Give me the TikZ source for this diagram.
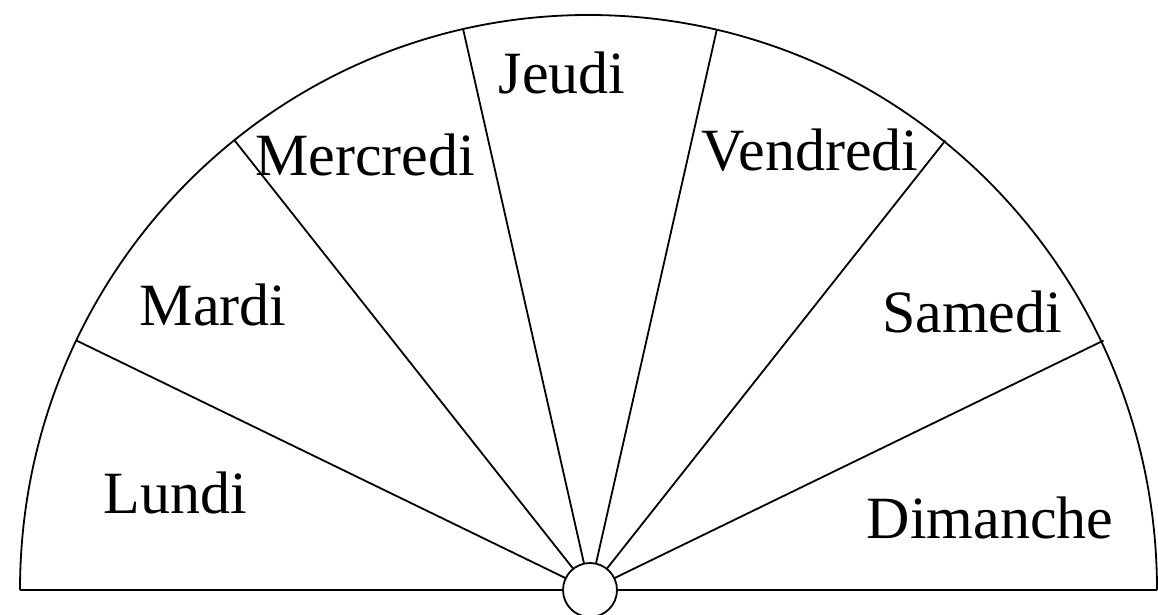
\documentclass[tikz,border=0pt]{standalone}
\usepackage{fontspec}
\setmainfont{Liberation Serif}
\usetikzlibrary{calc}
\begin{document}
\begin{tikzpicture}[x=1pt,y=1pt,
  edge/.style={line width=1.8pt,black},
  day/.style={font=\fontsize{60}{60}\selectfont,inner sep=0pt}]
\useasboundingbox (0,0) rectangle (1158,615);
\coordinate (O) at (590,25);
\foreach \k in {1,...,6}{
  \coordinate (p\k) at ($(O)+({570*cos(\k*180/7)},{575*sin(\k*180/7)})$);
}
\coordinate (L) at (20,25);
\coordinate (R) at (1157,25);
% outline
\draw[edge] (L) arc[start angle=180,end angle=0,x radius=568.5,y radius=575];
\draw[edge] (L) -- (R);
\foreach \k in {1,...,6}{\draw[edge] (O) -- (p\k);}
\node[circle,draw,line width=1.8pt,fill=white,minimum size=54pt,inner sep=0pt] (hub) at (O) {};
\node[day] (lundi) at (175,122) {Lundi};
\node[day] (mardi) at (213,310) {Mardi};
\node[day] (mercredi) at (365,460) {Mercredi};
\node[day] (jeudi) at (562,542) {Jeudi};
\node[day] (vendredi) at (810,465) {Vendredi};
\node[day] (samedi) at (972,303) {Samedi};
\node[day] (dimanche) at (990,97) {Dimanche};
\end{tikzpicture}
\end{document}
